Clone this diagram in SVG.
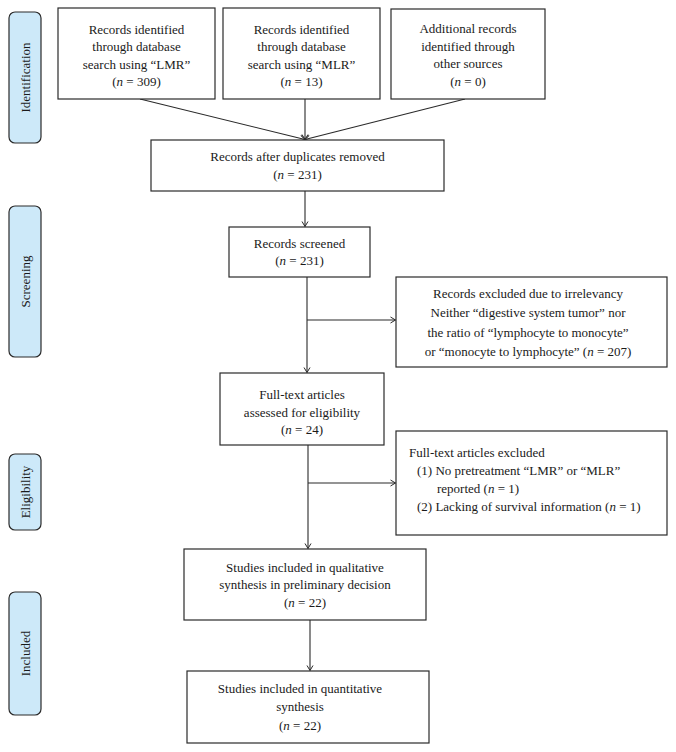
<svg xmlns="http://www.w3.org/2000/svg" width="676" height="752" viewBox="0 0 676 752">
<style>
.box{fill:#fff;stroke:#2a2a2a;stroke-width:1.2}
.phase{fill:#cde9f9;stroke:#2a2a2a;stroke-width:1.2}
text{font-family:"Liberation Serif","Times New Roman",serif;font-size:13px;fill:#1a1a1a}
.c{text-anchor:middle}
.i{font-style:italic}
.line{stroke:#2a2a2a;stroke-width:1.1;fill:none}
</style>
<defs>
<marker id="ah" markerWidth="8" markerHeight="8" refX="6" refY="4" orient="auto" markerUnits="userSpaceOnUse">
<path d="M1,1 L6,4 L1,7" fill="none" stroke="#2a2a2a" stroke-width="1"/>
</marker>
</defs>
<rect width="676" height="752" fill="#fff"/>

<g id="phase-identification">
<rect class="phase" x="9" y="12" width="32" height="131" rx="6"/>
<text class="c" transform="translate(29.5,77.5) rotate(-90)">Identification</text>
</g>
<g id="phase-screening">
<rect class="phase" x="9" y="206" width="32" height="151" rx="6"/>
<text class="c" transform="translate(29.5,281.5) rotate(-90)">Screening</text>
</g>
<g id="phase-eligibility">
<rect class="phase" x="9" y="454" width="32" height="76" rx="6"/>
<text class="c" transform="translate(29.5,492) rotate(-90)">Eligibility</text>
</g>
<g id="phase-included">
<rect class="phase" x="9" y="592" width="32" height="123" rx="6"/>
<text class="c" transform="translate(29.5,653.5) rotate(-90)">Included</text>
</g>

<g id="connectors">
<line class="line" x1="140" y1="99" x2="305" y2="139.5" marker-end="url(#ah)"/>
<line class="line" x1="305" y1="99" x2="305" y2="139.5" marker-end="url(#ah)"/>
<line class="line" x1="465" y1="99" x2="305" y2="139.5" marker-end="url(#ah)"/>
<line class="line" x1="305" y1="191" x2="305" y2="226.5" marker-end="url(#ah)"/>
<line class="line" x1="307" y1="277" x2="307" y2="372.5" marker-end="url(#ah)"/>
<line class="line" x1="307" y1="320" x2="395.5" y2="320" marker-end="url(#ah)"/>
<line class="line" x1="308" y1="445" x2="308" y2="548.5" marker-end="url(#ah)"/>
<line class="line" x1="308" y1="483" x2="395.5" y2="483" marker-end="url(#ah)"/>
<line class="line" x1="310" y1="620" x2="310" y2="670.5" marker-end="url(#ah)"/>
</g>

<g id="node-lmr">
<rect class="box" x="58" y="8" width="157" height="91"/>
<text class="c" x="136.5" y="33.5">Records identified</text>
<text class="c" x="136.5" y="51">through database</text>
<text class="c" x="136.5" y="68.5">search using “LMR”</text>
<text class="c" x="136.5" y="86">(<tspan class="i">n</tspan> = 309)</text>
</g>
<g id="node-mlr">
<rect class="box" x="223" y="8" width="157" height="91"/>
<text class="c" x="301.5" y="33.5">Records identified</text>
<text class="c" x="301.5" y="51">through database</text>
<text class="c" x="301.5" y="68.5">search using “MLR”</text>
<text class="c" x="301.5" y="86">(<tspan class="i">n</tspan> = 13)</text>
</g>
<g id="node-additional">
<rect class="box" x="391" y="9" width="154" height="90"/>
<text class="c" x="468" y="33">Additional records</text>
<text class="c" x="468" y="50.5">identified through</text>
<text class="c" x="468" y="68">other sources</text>
<text class="c" x="468" y="85.5">(<tspan class="i">n</tspan> = 0)</text>
</g>
<g id="node-duplicates">
<rect class="box" x="151" y="140" width="293" height="51"/>
<text class="c" x="297.5" y="161">Records after duplicates removed</text>
<text class="c" x="297.5" y="178.5">(<tspan class="i">n</tspan> = 231)</text>
</g>
<g id="node-screened">
<rect class="box" x="229" y="227" width="141" height="50"/>
<text class="c" x="299.5" y="248">Records screened</text>
<text class="c" x="299.5" y="265">(<tspan class="i">n</tspan> = 231)</text>
</g>
<g id="node-excluded-irrelevant">
<rect class="box" x="396" y="277" width="271" height="90"/>
<text class="c" x="528" y="297.5">Records excluded due to irrelevancy</text>
<text class="c" x="528" y="317">Neither “digestive system tumor” nor</text>
<text class="c" x="528" y="336.5">the ratio of “lymphocyte to monocyte”</text>
<text class="c" x="528" y="356">or “monocyte to lymphocyte” (<tspan class="i">n</tspan> = 207)</text>
</g>
<g id="node-fulltext">
<rect class="box" x="220" y="373" width="164" height="72"/>
<text class="c" x="302" y="399">Full-text articles</text>
<text class="c" x="302" y="416.5">assessed for eligibility</text>
<text class="c" x="302" y="434">(<tspan class="i">n</tspan> = 24)</text>
</g>
<g id="node-fulltext-excluded">
<rect class="box" x="396" y="431" width="271" height="104"/>
<text x="409" y="456.5">Full-text articles excluded</text>
<text x="417" y="474.5">(1) No pretreatment “LMR” or “MLR”</text>
<text x="437" y="492.5">reported (<tspan class="i">n</tspan> = 1)</text>
<text x="417" y="511">(2) Lacking of survival information (<tspan class="i">n</tspan> = 1)</text>
</g>
<g id="node-qualitative">
<rect class="box" x="184" y="549" width="242" height="71"/>
<text class="c" x="305" y="571.5">Studies included in qualitative</text>
<text class="c" x="305" y="589">synthesis in preliminary decision</text>
<text class="c" x="305" y="606.5">(<tspan class="i">n</tspan> = 22)</text>
</g>
<g id="node-quantitative">
<rect class="box" x="187" y="671" width="242" height="72"/>
<text class="c" x="300" y="692.5">Studies included in quantitative</text>
<text class="c" x="300" y="711">synthesis</text>
<text class="c" x="300" y="729.5">(<tspan class="i">n</tspan> = 22)</text>
</g>
</svg>
